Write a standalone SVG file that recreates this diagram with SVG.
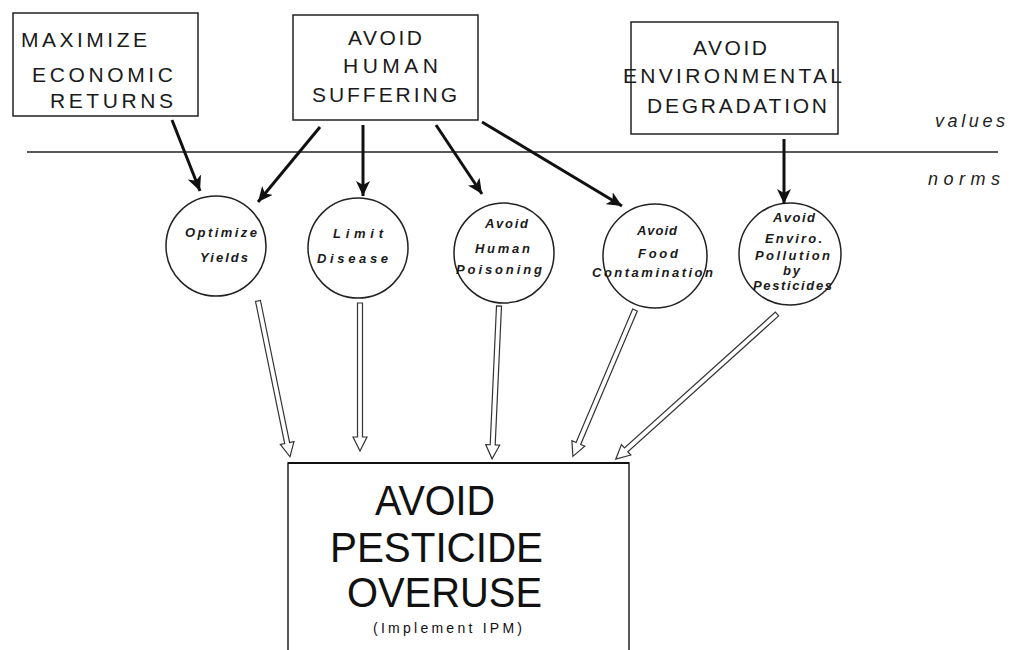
<svg xmlns="http://www.w3.org/2000/svg" width="1010" height="650" viewBox="0 0 1010 650">
  <style>
    .box { fill: #fff; stroke: #222; stroke-width: 1.5; }
    .circ { fill: #fff; stroke: #222; stroke-width: 1.5; }
    .val { font-family: "Liberation Sans", Arial, sans-serif; font-size: 21px; fill: #1a1a1a; }
    .norm { font-family: "Liberation Sans", Arial, sans-serif; font-size: 13px; font-style: italic; font-weight: bold; fill: #1a1a1a; }
    .side { font-family: "Liberation Sans", Arial, sans-serif; font-size: 18px; font-style: italic; fill: #222; }
    .big { font-family: "Liberation Sans", Arial, sans-serif; font-size: 42px; fill: #111; }
    .small { font-family: "Liberation Sans", Arial, sans-serif; font-size: 14px; fill: #111; }
    .solid { stroke: #111; stroke-width: 3; fill: none; marker-end: url(#head); }
    .hollow { fill: #fff; stroke: #333; stroke-width: 1.2; stroke-linejoin: miter; }
  </style>
  <defs>
    <marker id="head" markerUnits="userSpaceOnUse" markerWidth="16" markerHeight="14" refX="15" refY="7" orient="auto">
      <path d="M0,0 L15,7 L0,14 L4,7 Z" fill="#111"/>
    </marker>
  </defs>
  <rect width="1010" height="650" fill="#fff"/>

  <!-- divider between values and norms -->
  <line x1="27" y1="152" x2="998" y2="152" stroke="#222" stroke-width="1.6"/>
  <text class="side" x="935" y="127" textLength="70" lengthAdjust="spacing">values</text>
  <text class="side" x="928" y="185" textLength="72" lengthAdjust="spacing">norms</text>

  <!-- value boxes -->
  <g id="maximize-economic-returns">
    <rect class="box" x="13" y="13" width="185" height="103"/>
    <text class="val" x="21" y="47" textLength="126" lengthAdjust="spacing">MAXIMIZE</text>
    <text class="val" x="32" y="82" textLength="141" lengthAdjust="spacing">ECONOMIC</text>
    <text class="val" x="50" y="108" textLength="123" lengthAdjust="spacing">RETURNS</text>
  </g>
  <g id="avoid-human-suffering">
    <rect class="box" x="293" y="15" width="185" height="105"/>
    <text class="val" x="348" y="45" textLength="74" lengthAdjust="spacing">AVOID</text>
    <text class="val" x="343" y="73" textLength="95" lengthAdjust="spacing">HUMAN</text>
    <text class="val" x="312" y="102" textLength="145" lengthAdjust="spacing">SUFFERING</text>
  </g>
  <g id="avoid-environmental-degradation">
    <rect class="box" x="631" y="22" width="207" height="112"/>
    <text class="val" x="693" y="55" textLength="74" lengthAdjust="spacing">AVOID</text>
    <text class="val" x="623" y="83" textLength="219" lengthAdjust="spacing">ENVIRONMENTAL</text>
    <text class="val" x="647" y="113" textLength="180" lengthAdjust="spacing">DEGRADATION</text>
  </g>

  <!-- norm circles -->
  <g id="optimize-yields">
    <circle class="circ" cx="216" cy="246" r="50"/>
    <text class="norm" x="185" y="237" textLength="72" lengthAdjust="spacing">Optimize</text>
    <text class="norm" x="200" y="262" textLength="48" lengthAdjust="spacing">Yields</text>
  </g>
  <g id="limit-disease">
    <circle class="circ" cx="358" cy="248" r="50"/>
    <text class="norm" x="333" y="238" textLength="50" lengthAdjust="spacing">Limit</text>
    <text class="norm" x="317" y="263" textLength="71" lengthAdjust="spacing">Disease</text>
  </g>
  <g id="avoid-human-poisoning">
    <circle class="circ" cx="504" cy="253" r="50"/>
    <text class="norm" x="485" y="228" textLength="43" lengthAdjust="spacing">Avoid</text>
    <text class="norm" x="475" y="253" textLength="55" lengthAdjust="spacing">Human</text>
    <text class="norm" x="456" y="274" textLength="86" lengthAdjust="spacing">Poisoning</text>
  </g>
  <g id="avoid-food-contamination">
    <circle class="circ" cx="655" cy="256" r="52"/>
    <text class="norm" x="637" y="235" textLength="40" lengthAdjust="spacing">Avoid</text>
    <text class="norm" x="638" y="258" textLength="40" lengthAdjust="spacing">Food</text>
    <text class="norm" x="592" y="277" textLength="121" lengthAdjust="spacing">Contamination</text>
  </g>
  <g id="avoid-enviro-pollution">
    <circle class="circ" cx="790" cy="254" r="51"/>
    <text class="norm" x="773" y="222" textLength="42" lengthAdjust="spacing">Avoid</text>
    <text class="norm" x="765" y="243" textLength="57" lengthAdjust="spacing">Enviro.</text>
    <text class="norm" x="755" y="260" textLength="75" lengthAdjust="spacing">Pollution</text>
    <text class="norm" x="783" y="275" textLength="17" lengthAdjust="spacing">by</text>
    <text class="norm" x="753" y="290" textLength="79" lengthAdjust="spacing">Pesticides</text>
  </g>

  <!-- goal box -->
  <g id="avoid-pesticide-overuse">
    <rect x="288" y="463" width="341" height="200" fill="#fff" stroke="none"/>
    <path d="M288,650 V463 H629 V650" fill="none" stroke="#222" stroke-width="1.5"/>
    <line x1="288" y1="463" x2="629" y2="463" stroke="#111" stroke-width="2"/>
    <text class="big" x="375" y="515" textLength="120" lengthAdjust="spacingAndGlyphs">AVOID</text>
    <text class="big" x="330" y="562" textLength="213" lengthAdjust="spacingAndGlyphs">PESTICIDE</text>
    <text class="big" x="347" y="607" textLength="195" lengthAdjust="spacingAndGlyphs">OVERUSE</text>
    <text class="small" x="373" y="633" textLength="149" lengthAdjust="spacing">(Implement IPM)</text>
  </g>

  <!-- connectors -->
  <g id="connectors">
    <line class="solid" x1="172" y1="120" x2="200" y2="191"/>
    <line class="solid" x1="320" y1="127" x2="258" y2="202"/>
    <line class="solid" x1="363" y1="125" x2="363" y2="196"/>
    <line class="solid" x1="436" y1="125" x2="482" y2="194"/>
    <line class="solid" x1="482" y1="122" x2="622" y2="206"/>
    <line class="solid" x1="784" y1="139" x2="784" y2="204"/>

    <polygon class="hollow" transform="translate(258,301) rotate(78.4)" points="0,-2.5 145,-2.5 145,-7 159,0 145,7 145,2.5 0,2.5"/>
    <polygon class="hollow" transform="translate(360,303) rotate(90)" points="0,-2.5 134,-2.5 134,-7 148,0 134,7 134,2.5 0,2.5"/>
    <polygon class="hollow" transform="translate(499,306) rotate(92.6)" points="0,-2.5 139,-2.5 139,-7 153,0 139,7 139,2.5 0,2.5"/>
    <polygon class="hollow" transform="translate(635,310) rotate(113)" points="0,-2.5 145,-2.5 145,-7 159,0 145,7 145,2.5 0,2.5"/>
    <polygon class="hollow" transform="translate(777,314) rotate(138)" points="0,-2.5 203,-2.5 203,-7 217,0 203,7 203,2.5 0,2.5"/>
  </g>
</svg>
